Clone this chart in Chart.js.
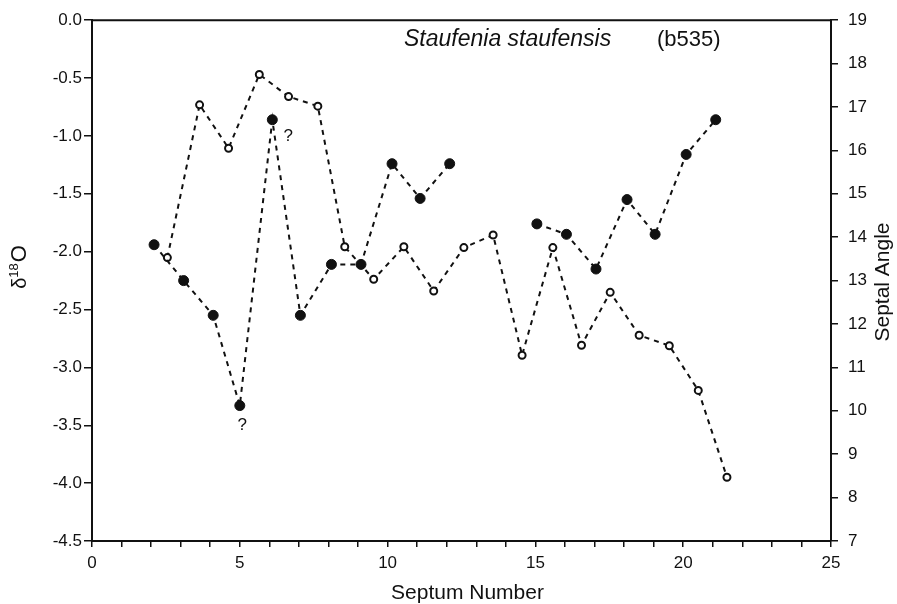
<!DOCTYPE html>
<html>
<head>
<meta charset="utf-8">
<script src="https://cdn.jsdelivr.net/npm/chart.js@4.4.1/dist/chart.umd.min.js"></script>
<style>
  html, body { margin: 0; padding: 0; background: #fff; }
  #wrap { width: 897px; height: 604px; position: relative; }
</style>
</head>
<body>
<div id="wrap"><canvas id="chart"></canvas></div>
<script>
// filled circles: delta 18O (left axis); null breaks the line between septa 12 and 15
const O18_SEPTA = [2.1, 3.1, 4.1, 5.0, 6.1, 7.05, 8.1, 9.1, 10.15, 11.1, 12.1, 13.6, 15.05, 16.05, 17.05, 18.1, 19.05, 20.1, 21.1];
const O18_VALUES = [-1.94, -2.25, -2.55, -3.33, -0.86, -2.55, -2.11, -2.11, -1.24, -1.54, -1.24, null, -1.76, -1.85, -2.15, -1.55, -1.85, -1.16, -0.86];

// open circles: septal angle (right axis)
const ANGLE_SEPTA = [2.55, 3.64, 4.62, 5.66, 6.65, 7.64, 8.55, 9.53, 10.55, 11.56, 12.58, 13.57, 14.55, 15.59, 16.56, 17.53, 18.51, 19.53, 20.51, 21.48];
const ANGLE_VALUES = [13.53, 17.05, 16.05, 17.75, 17.24, 17.02, 13.78, 13.03, 13.78, 12.76, 13.76, 14.05, 11.28, 13.76, 11.51, 12.73, 11.74, 11.50, 10.47, 8.47];

// uncertain samples marked with "?"
const QUERY_X = [6.64, 5.08];
const QUERY_Y = [-1.0, -3.5];

const FONT = "'Liberation Sans', Arial, Helvetica, sans-serif";
const INK = '#111';

function toPoints(xs, ys) {
  return xs.map((x, i) => ({ x, y: ys[i] }));
}

const chartFrame = {
  id: 'chartFrame',
  afterDraw(chart) {
    const { ctx, chartArea: a, scales } = chart;
    ctx.save();
    ctx.strokeStyle = INK;
    ctx.lineWidth = 2;
    ctx.beginPath();
    ctx.moveTo(a.left, a.top);
    ctx.lineTo(a.right, a.top);
    ctx.stroke();

    ctx.fillStyle = INK;
    ctx.textBaseline = 'alphabetic';

    // species title
    ctx.textAlign = 'left';
    ctx.font = `italic 23px ${FONT}`;
    ctx.fillText('Staufenia staufensis', 404, 46);
    ctx.font = `22px ${FONT}`;
    ctx.fillText('(b535)', 657, 46);

    // question marks
    ctx.textAlign = 'center';
    ctx.textBaseline = 'middle';
    ctx.font = `17px ${FONT}`;
    QUERY_X.forEach((x, i) => {
      ctx.fillText('?', scales.x.getPixelForValue(x), scales.y.getPixelForValue(QUERY_Y[i]));
    });

    // x title
    ctx.font = `21px ${FONT}`;
    ctx.fillText('Septum Number', (a.left + a.right) / 2 + 6, 593);

    // right title, reads bottom to top
    ctx.save();
    ctx.translate(883, 282);
    ctx.rotate(-Math.PI / 2);
    ctx.fillText('Septal Angle', 0, 0);
    ctx.restore();

    // left title: delta 18O with superscript
    ctx.save();
    ctx.translate(19, 267);
    ctx.rotate(-Math.PI / 2);
    ctx.textAlign = 'left';
    ctx.font = `20px ${FONT}`;
    const w1 = ctx.measureText('δ').width;
    ctx.font = `13px ${FONT}`;
    const w2 = ctx.measureText('18').width;
    ctx.font = `22px ${FONT}`;
    const w3 = ctx.measureText('O').width;
    let x0 = -(w1 + w2 + w3 + 1) / 2;
    ctx.font = `20px ${FONT}`;
    ctx.fillText('δ', x0, 1);
    ctx.font = `13px ${FONT}`;
    ctx.fillText('18', x0 + w1, -5);
    ctx.font = `22px ${FONT}`;
    ctx.fillText('O', x0 + w1 + w2 + 1, 1);
    ctx.restore();

    ctx.restore();
  }
};

new Chart(document.getElementById('chart').getContext('2d'), {
  type: 'line',
  data: {
    datasets: [
      {
        label: 'd18O',
        data: toPoints(O18_SEPTA, O18_VALUES),
        yAxisID: 'y',
        borderColor: INK,
        borderWidth: 2,
        borderDash: [5, 5],
        tension: 0,
        spanGaps: false,
        pointRadius: 5,
        pointBackgroundColor: INK,
        pointBorderColor: INK,
        pointBorderWidth: 1
      },
      {
        label: 'Septal angle',
        data: toPoints(ANGLE_SEPTA, ANGLE_VALUES),
        yAxisID: 'y2',
        borderColor: INK,
        borderWidth: 2,
        borderDash: [5, 5],
        tension: 0,
        pointRadius: 3.5,
        pointBackgroundColor: '#fff',
        pointBorderColor: INK,
        pointBorderWidth: 2
      }
    ]
  },
  options: {
    responsive: true,
    maintainAspectRatio: false,
    animation: false,
    layout: { padding: { top: 17, left: 0, right: 0, bottom: 0 } },
    plugins: {
      legend: { display: false },
      tooltip: { enabled: false }
    },
    scales: {
      x: {
        type: 'linear',
        min: 0,
        max: 25,
        afterFit: (scale) => { scale.height = 63; },
        ticks: {
          stepSize: 1,
          autoSkip: false,
          maxRotation: 0,
          padding: 6,
          color: INK,
          font: { family: FONT, size: 17 },
          callback: (v) => (v % 5 === 0 ? String(v) : '')
        },
        grid: { drawOnChartArea: false, tickLength: 6, color: INK, lineWidth: 1.5 },
        border: { color: INK, width: 2 }
      },
      y: {
        position: 'left',
        min: -4.5,
        max: 0,
        afterFit: (scale) => { scale.width = 92; },
        ticks: {
          stepSize: 0.5,
          padding: 2,
          color: INK,
          font: { family: FONT, size: 17 },
          callback: (v) => Number(v).toFixed(1)
        },
        grid: { drawOnChartArea: false, tickLength: 8, color: INK, lineWidth: 1.5 },
        border: { color: INK, width: 2 }
      },
      y2: {
        position: 'right',
        min: 7,
        max: 19,
        afterFit: (scale) => { scale.width = 66; },
        ticks: {
          stepSize: 1,
          padding: 10,
          color: INK,
          font: { family: FONT, size: 17 }
        },
        grid: { drawOnChartArea: false, tickLength: 7, color: INK, lineWidth: 1.5 },
        border: { color: INK, width: 2 }
      }
    }
  },
  plugins: [chartFrame]
});
</script>
</body>
</html>
